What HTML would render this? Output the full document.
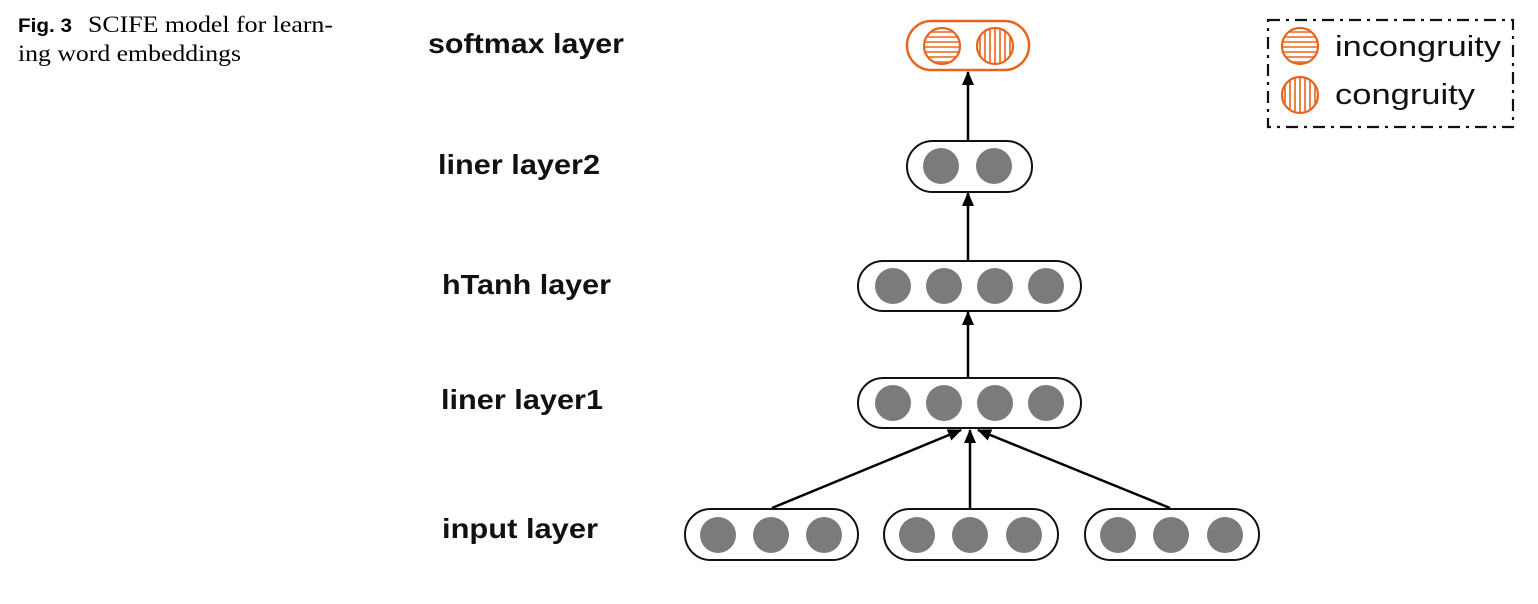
<!DOCTYPE html>
<html><head><meta charset="utf-8"><style>
html,body{margin:0;padding:0;background:#fff}
svg{display:block}
</style></head><body>
<svg width="1538" height="604" viewBox="0 0 1538 604" xmlns="http://www.w3.org/2000/svg">
<defs>
<clipPath id="c1"><circle cx="942" cy="46" r="18"/></clipPath>
<clipPath id="c2"><circle cx="995" cy="46" r="18"/></clipPath>
<clipPath id="c3"><circle cx="1300" cy="46" r="18"/></clipPath>
<clipPath id="c4"><circle cx="1300" cy="95" r="18"/></clipPath>
<marker id="ah" markerWidth="14" markerHeight="14" refX="13" refY="7" orient="auto" markerUnits="userSpaceOnUse" viewBox="0 0 14 14"><path d="M0,1 L14,7 L0,13 z" fill="#000"/></marker>
</defs>
<text x="18" y="32" font-family="Liberation Sans, sans-serif" font-weight="bold" font-size="19" textLength="54" lengthAdjust="spacingAndGlyphs">Fig. 3</text>
<text x="88" y="32" font-family="Liberation Serif, serif" font-size="23" textLength="245" lengthAdjust="spacingAndGlyphs">SCIFE model for learn-</text>
<text x="18" y="61" font-family="Liberation Serif, serif" font-size="23" textLength="223" lengthAdjust="spacingAndGlyphs">ing word embeddings</text>

<g font-family="Liberation Sans, sans-serif" font-weight="bold" font-size="28" fill="#111" lengthAdjust="spacingAndGlyphs">
<text x="428" y="53" textLength="196" lengthAdjust="spacingAndGlyphs">softmax layer</text>
<text x="438" y="174" textLength="162" lengthAdjust="spacingAndGlyphs">liner layer2</text>
<text x="442" y="294" textLength="169" lengthAdjust="spacingAndGlyphs">hTanh layer</text>
<text x="441" y="409" textLength="162" lengthAdjust="spacingAndGlyphs">liner layer1</text>
<text x="442" y="538" textLength="156" lengthAdjust="spacingAndGlyphs">input layer</text>
</g>

<rect x="907" y="21" width="122" height="49" rx="24.5" fill="none" stroke="#e8641c" stroke-width="2.5"/>
<g stroke="#e8641c" stroke-width="1.6">
<g clip-path="url(#c1)"><line x1="920" y1="32" x2="965" y2="32"/><line x1="920" y1="37" x2="965" y2="37"/><line x1="920" y1="42" x2="965" y2="42"/><line x1="920" y1="47" x2="965" y2="47"/><line x1="920" y1="52" x2="965" y2="52"/><line x1="920" y1="57" x2="965" y2="57"/><line x1="920" y1="62" x2="965" y2="62"/></g>
<g clip-path="url(#c2)"><line x1="980" y1="25" x2="980" y2="70"/><line x1="985" y1="25" x2="985" y2="70"/><line x1="990" y1="25" x2="990" y2="70"/><line x1="995" y1="25" x2="995" y2="70"/><line x1="1000" y1="25" x2="1000" y2="70"/><line x1="1005" y1="25" x2="1005" y2="70"/><line x1="1010" y1="25" x2="1010" y2="70"/></g>
<g clip-path="url(#c3)"><line x1="1278" y1="32" x2="1322" y2="32"/><line x1="1278" y1="37" x2="1322" y2="37"/><line x1="1278" y1="42" x2="1322" y2="42"/><line x1="1278" y1="47" x2="1322" y2="47"/><line x1="1278" y1="52" x2="1322" y2="52"/><line x1="1278" y1="57" x2="1322" y2="57"/><line x1="1278" y1="62" x2="1322" y2="62"/></g>
<g clip-path="url(#c4)"><line x1="1285" y1="75" x2="1285" y2="115"/><line x1="1290" y1="75" x2="1290" y2="115"/><line x1="1295" y1="75" x2="1295" y2="115"/><line x1="1300" y1="75" x2="1300" y2="115"/><line x1="1305" y1="75" x2="1305" y2="115"/><line x1="1310" y1="75" x2="1310" y2="115"/><line x1="1315" y1="75" x2="1315" y2="115"/></g>
</g>
<g fill="none" stroke="#e8641c" stroke-width="2.2">
<circle cx="942" cy="46" r="18"/><circle cx="995" cy="46" r="18"/>
<circle cx="1300" cy="46" r="18"/><circle cx="1300" cy="95" r="18"/>
</g>

<rect x="1268" y="20" width="245" height="107" fill="none" stroke="#111" stroke-width="2.2" stroke-dasharray="12,6,3,6"/>
<g font-family="Liberation Sans, sans-serif" font-size="29" fill="#111">
<text x="1335" y="56" textLength="166" lengthAdjust="spacingAndGlyphs">incongruity</text>
<text x="1335" y="104" textLength="140" lengthAdjust="spacingAndGlyphs">congruity</text>
</g>

<g fill="#fff" stroke="#111" stroke-width="2">
<rect x="907" y="141" width="125" height="51" rx="25.5"/>
<rect x="858" y="261" width="223" height="50" rx="25"/>
<rect x="858" y="378" width="223" height="50" rx="25"/>
<rect x="685" y="509" width="173" height="51" rx="25.5"/>
<rect x="884" y="509" width="174" height="51" rx="25.5"/>
<rect x="1085" y="509" width="174" height="51" rx="25.5"/>
</g>
<g fill="#7b7b7b">
<circle cx="941" cy="166" r="18"/><circle cx="994" cy="166" r="18"/>
<circle cx="893" cy="286" r="18"/><circle cx="944" cy="286" r="18"/><circle cx="995" cy="286" r="18"/><circle cx="1046" cy="286" r="18"/>
<circle cx="893" cy="403" r="18"/><circle cx="944" cy="403" r="18"/><circle cx="995" cy="403" r="18"/><circle cx="1046" cy="403" r="18"/>
<circle cx="718" cy="535" r="18"/><circle cx="771" cy="535" r="18"/><circle cx="824" cy="535" r="18"/>
<circle cx="917" cy="535" r="18"/><circle cx="970" cy="535" r="18"/><circle cx="1024" cy="535" r="18"/>
<circle cx="1118" cy="535" r="18"/><circle cx="1171" cy="535" r="18"/><circle cx="1225" cy="535" r="18"/>
</g>

<g stroke="#000" stroke-width="2.5" fill="none" marker-end="url(#ah)">
<line x1="968" y1="140" x2="968" y2="72"/>
<line x1="968" y1="260" x2="968" y2="193"/>
<line x1="968" y1="377" x2="968" y2="312"/>
<line x1="772" y1="508" x2="961" y2="430"/>
<line x1="970" y1="508" x2="970" y2="430"/>
<line x1="1170" y1="508" x2="978" y2="430"/>
</g>
</svg>
</body></html>
